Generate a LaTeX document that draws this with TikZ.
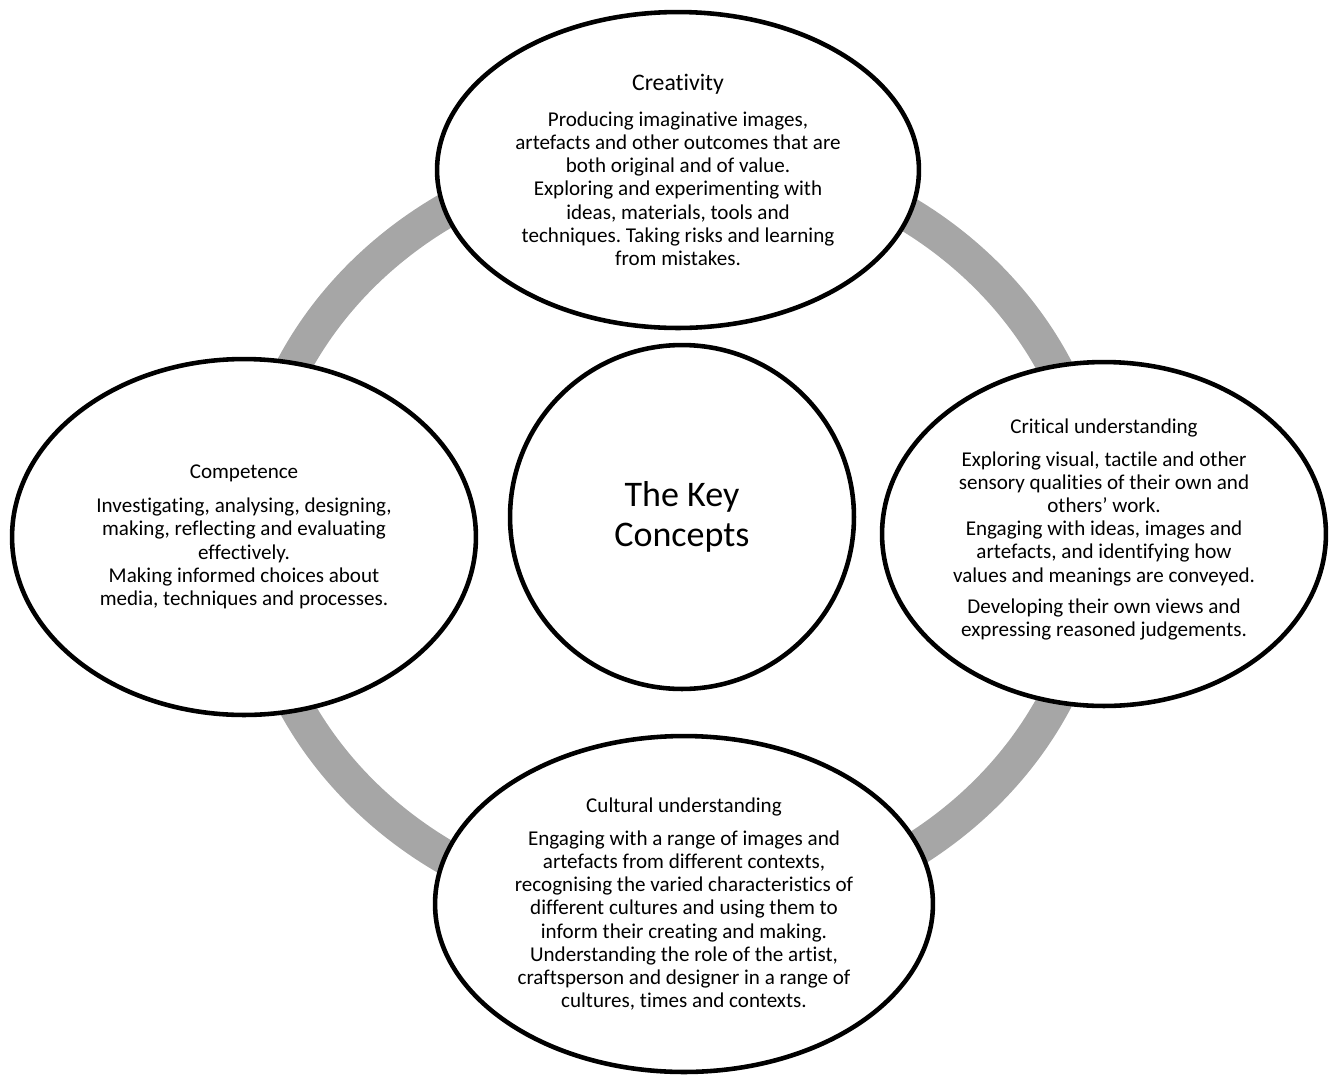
\documentclass[tikz,border=0pt]{standalone}
\usepackage{fontspec}
\setmainfont{Carlito}[Ligatures=NoCommon]
\usetikzlibrary{shapes.geometric}
\definecolor{ringgray}{RGB}{166,166,166}
\frenchspacing

\begin{document}
\begin{tikzpicture}[x=0.02cm, y=-0.02cm,
    concept/.style={ellipse, draw, line width=2.6pt, fill=white, inner sep=0pt,
        align=center, font=\fontsize{12}{13.2}\selectfont}]
    % Page size
    \useasboundingbox (0,0) rectangle (1330,1076);

    % Grey ring behind the ellipses
    \coordinate (ring) at (674,534);
    \draw[ringgray, line width=19.8pt] (ring) ellipse [x radius=8.46cm, y radius=7.68cm];

    % Top
    \node[concept, minimum width=9.64cm, minimum height=6.32cm] (creativity) at (678,170) {%
        {\fontsize{13.5}{14}\selectfont Creativity}\\[7pt]
        Producing imaginative images,\\
        artefacts and other outcomes that are\\
        both original and of value.\hspace*{10pt}\\
        Exploring and experimenting with\\
        ideas, materials, tools and\\
        techniques. Taking risks and learning\\
        from mistakes.};

    % Left
    \node[concept, minimum width=9.28cm, minimum height=7.12cm] (competence) at (244,537) {%
        Competence\\[6pt]
        Investigating, analysing, designing,\\
        making, reflecting and evaluating\\
        effectively.\hspace*{21pt}\\
        Making informed choices about\\
        media, techniques and processes.};

    % Right
    \node[concept, minimum width=8.88cm, minimum height=6.88cm] (critical) at (1104,534) {%
        Critical understanding\\[5.5pt]
        Exploring visual, tactile and other\\
        sensory qualities of their own and\\
        others’ work.\\
        Engaging with ideas, images and\\
        artefacts, and identifying how\\
        values and meanings are conveyed.\\[4.8pt]
        Developing their own views and\\
        expressing reasoned judgements.\\[-6pt]\mbox{}};

    % Bottom
    \node[concept, minimum width=9.96cm, minimum height=6.72cm] (cultural) at (684,904) {%
        Cultural understanding\\[5.5pt]
        Engaging with a range of images and\\
        artefacts from different contexts,\\
        recognising the varied characteristics of\\
        different cultures and using them to\\
        inform their creating and making.\\
        Understanding the role of the artist,\\
        craftsperson and designer in a range of\\
        cultures, times and contexts.};

    % Centre
    \node[concept, circle, minimum size=6.88cm, font=\fontsize{20.5}{22.7}\selectfont] (key) at (682,517)
        {The Key\\Concepts};
\end{tikzpicture}
\end{document}
